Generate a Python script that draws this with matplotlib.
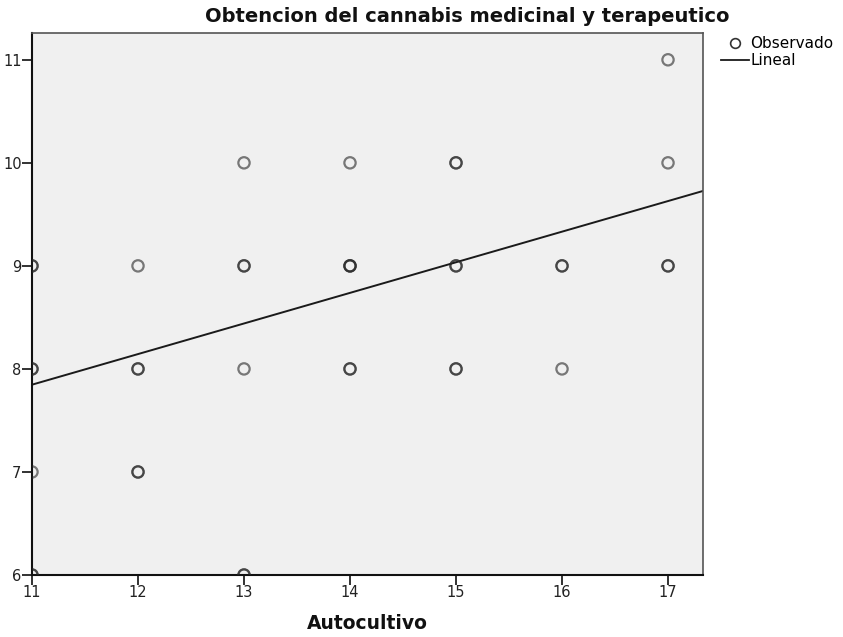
import matplotlib
matplotlib.use("Agg")
import matplotlib.pyplot as plt
from matplotlib.lines import Line2D
import numpy as np

plt.rcParams['font.family'] = ['DejaVu Sans']

# Observations (Autocultivo, Obtencion); repeated pairs overlap and look darker
autocultivo = [11, 11, 11, 11, 11, 11, 11,
               12, 12, 12, 12, 12,
               13, 13, 13, 13, 13, 13,
               14, 14, 14, 14, 14, 14,
               15, 15, 15, 15, 15, 15,
               16, 16, 16,
               17, 17, 17, 17]
obtencion = [9, 9, 8, 8, 7, 6, 6,
             9, 8, 8, 7, 7,
             10, 9, 9, 8, 6, 6,
             10, 9, 9, 9, 8, 8,
             10, 10, 9, 9, 8, 8,
             9, 9, 8,
             11, 10, 9, 9]

# Linear fit line
fit_intercept = 4.58
fit_slope = 0.297

x_ticks = [11, 12, 13, 14, 15, 16, 17]
y_ticks = [6, 7, 8, 9, 10, 11]

fig = plt.figure(figsize=(8.43, 6.37), dpi=100)
ax = fig.add_axes([32 / 843, 62 / 637, 671 / 843, 542 / 637])
ax.set_facecolor('#f0f0f0')

ax.scatter(autocultivo, obtencion, s=66, facecolors='none',
           edgecolors=(0.15, 0.15, 0.15, 0.6), linewidths=1.6, zorder=3)

xs = np.array([11.0, 17.35])
ax.plot(xs, fit_intercept + fit_slope * xs, color='#1a1a1a', lw=1.4, zorder=2)

ax.set_xlim(11, 17.33)
ax.set_ylim(6, 11.26)
ax.set_xticks(x_ticks)
ax.set_yticks(y_ticks)
ax.tick_params(direction='out', length=7, width=1.3, color='#222222',
               labelsize=10.5, labelcolor='#222222', pad=0.5)

for side in ['left', 'bottom']:
    ax.spines[side].set_color('#111111')
    ax.spines[side].set_linewidth(1.5)
for side in ['top', 'right']:
    ax.spines[side].set_color('#555555')
    ax.spines[side].set_linewidth(1.2)

ax.set_xlabel('Autocultivo', fontsize=13.5, fontweight='bold', labelpad=10,
              color='#111111')

fig.text(467 / 843, 1 - 16 / 637, 'Obtencion del cannabis medicinal y terapeutico',
         ha='center', va='center', fontsize=14, fontweight='bold', color='#111111')

handles = [
    Line2D([], [], marker='o', linestyle='none', markerfacecolor='none',
           markeredgecolor='#333333', markersize=7, markeredgewidth=1.2),
    Line2D([], [], color='#1a1a1a', lw=1.3),
]
fig.legend(handles, ['Observado', 'Lineal'], loc='upper left',
           bbox_to_anchor=(721 / 843, 1 - 36 / 637), frameon=False,
           fontsize=11, handlelength=1.8, handletextpad=0.1,
           labelspacing=0.15, borderpad=0.0, borderaxespad=0)

fig.savefig('out.png', dpi=100)
